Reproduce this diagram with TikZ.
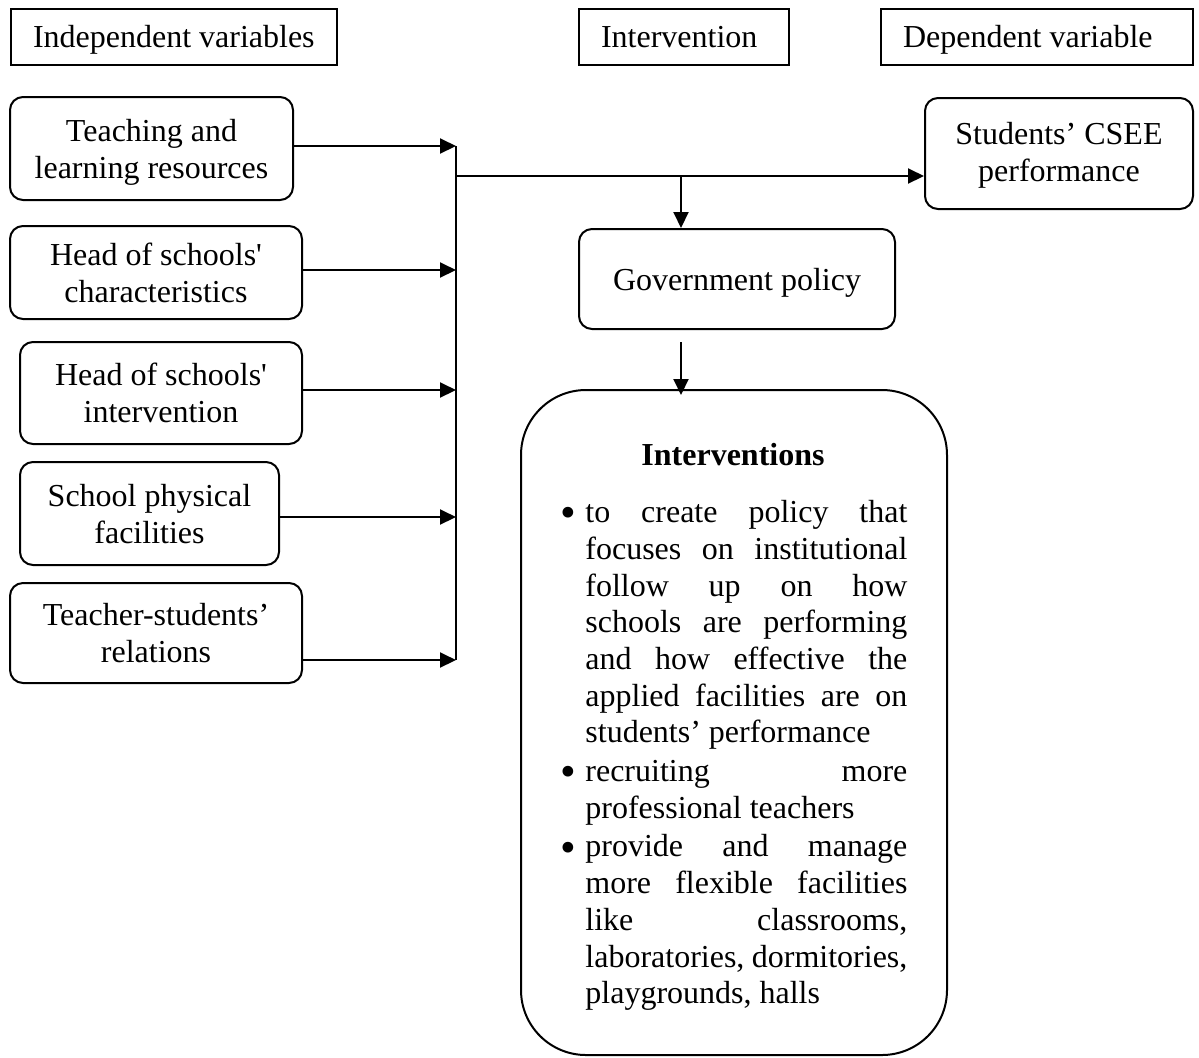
\documentclass[tikz,border=0pt]{standalone}
\usepackage{fontspec}
\usepackage{graphicx}
\setmainfont{Liberation Serif}
\usetikzlibrary{arrows.meta,calc}
\newcommand{\mybul}{\makebox[12.5pt][l]{\raisebox{-0.16em}{\scalebox{1.4}{\textbullet}}}}
\begin{document}
\begin{tikzpicture}[x=0.5pt,y=-0.5pt,
  every node/.style={font=\fontsize{16}{18.35}\selectfont},
  hdr/.style={draw, line width=1pt, anchor=north west, inner xsep=11pt, inner ysep=0pt, minimum height=28pt, text height=10pt, text depth=0pt},
  rbox/.style={draw, line width=1pt, rounded corners=6.5pt, align=center, inner sep=0pt, text height=29.5pt, text depth=0pt},
  bigbox/.style={draw, line width=1pt, rounded corners=32.5pt, inner sep=0pt},
  arr/.style={line width=1pt, -{Triangle[length=8pt,width=7.5pt]}},
  bus/.style={line width=0.8pt},
]
\useasboundingbox (0,0) rectangle (1199,1057);

% headers
\node[hdr, minimum width=163pt] (ind) at (10,8) {\makebox[141pt][l]{Independent variables}};
\node[hdr, minimum width=105pt] (int) at (578,8) {\makebox[83pt][l]{Intervention}};
\node[hdr, minimum width=156pt] (dep) at (880,8) {\makebox[134pt][l]{Dependent variable}};

% independent variable boxes
\node[rbox, minimum width=141.5pt, minimum height=51.5pt] (t1) at (151.5,148.5) {Teaching and\\learning resources};
\node[rbox, minimum width=146pt, minimum height=46.5pt] (t2) at (156,272.5) {Head of schools\textquotesingle\\characteristics};
\node[rbox, minimum width=141pt, minimum height=51pt] (t3) at (161,393) {Head of schools\textquotesingle\\intervention};
\node[rbox, minimum width=129.5pt, minimum height=51.5pt] (t4) at (149.5,513.5) {School physical\\facilities};
\node[rbox, minimum width=146pt, minimum height=50pt] (t5) at (156,633) {Teacher-students’\\relations};

% dependent and intervention boxes
\node[rbox, minimum width=134pt, minimum height=55.5pt, text height=28pt] (csee) at (1059,153.5) {Students’ CSEE\\performance};
\node[rbox, minimum width=158pt, minimum height=50pt, text height=11pt] (gov) at (737,279) {Government policy};
\node[bigbox, minimum width=213pt, minimum height=332.5pt] (iv) at (734,722.5) {};

\node[font=\fontsize{16}{18.35}\selectfont\bfseries, anchor=base] (ivt) at (733,465) {Interventions};
\node[anchor=north west, text width=173.5pt, inner sep=0pt, align=justify] (list) at (560,500) {%
\parindent=0pt\tolerance=10000\hbadness=10000\parskip=1pt
\hangindent=12.5pt\hangafter=1\mybul to create policy that\linebreak
focuses on institutional\linebreak
follow up on how\linebreak
schools are performing\linebreak
and how effective the\linebreak
applied facilities are on\linebreak
students’ performance\par
\hangindent=12.5pt\hangafter=1\mybul recruiting more\linebreak
professional teachers\par
\hangindent=12.5pt\hangafter=1\mybul provide and manage\linebreak
more flexible facilities\linebreak
like classrooms,\linebreak
laboratories, dormitories,\linebreak
playgrounds, halls\par};

% bus and connectors
\coordinate (b1) at (456,146);
\coordinate (b2) at (456,270);
\coordinate (b3) at (456,390);
\coordinate (b4) at (456,517);
\coordinate (b5) at (456,660);
\draw[bus] (b1) -- (b5);
\draw[arr] (t1.east |- b1) -- (b1);
\draw[arr] (t2.east |- b2) -- (b2);
\draw[arr] (t3.east |- b3) -- (b3);
\draw[arr] (t4.east |- b4) -- (b4);
\draw[arr] (t5.east |- b5) -- (b5);

\coordinate (j) at (456,176);
\draw[arr] (j) -- (j -| csee.west);
\coordinate (d) at (681,176);
\draw[arr] (d) -- (d |- gov.north);
\coordinate (g) at (681,342);
\draw[arr] (g) -- ($(g |- iv.north)+(0,6)$);
\end{tikzpicture}
\end{document}
